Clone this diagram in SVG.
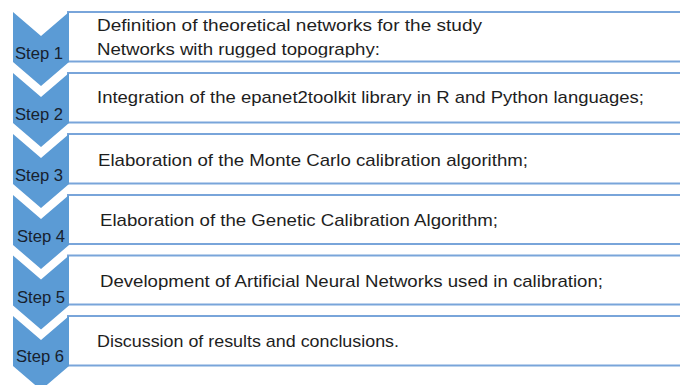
<svg xmlns="http://www.w3.org/2000/svg" width="680" height="385" viewBox="0 0 680 385">
  <defs>
    <style>
      .box { fill: #ffffff; stroke: #79a5da; stroke-width: 2; }
      .chev { fill: #5b9bd5; }
      .step { font-family: "Liberation Sans", Arial, sans-serif; font-size: 17px; fill: #17212e; }
      .txt { font-family: "Liberation Sans", Arial, sans-serif; font-size: 17px; fill: #1e1e1e; }
    </style>
    <!-- the second line of step 1 is cut off at its baseline -->
    <clipPath id="cut1">
      <rect x="60" y="0" width="620" height="57.5"/>
    </clipPath>
  </defs>
  <rect width="680" height="385" fill="#ffffff"/>

  <g id="step1">
    <rect class="box" x="68" y="12" width="620" height="49.5"/>
    <polygon class="chev" points="13,12 41,36 69,12 69,62 41,86 13,62"/>
    <text class="step" x="15" y="59" textLength="48" lengthAdjust="spacingAndGlyphs">Step 1</text>
    <text class="txt" x="97" y="31" textLength="385" lengthAdjust="spacingAndGlyphs">Definition of theoretical networks for the study</text>
    <text class="txt" x="97" y="55" textLength="283" lengthAdjust="spacingAndGlyphs" clip-path="url(#cut1)">Networks with rugged topography:</text>
  </g>

  <g id="step2">
    <rect class="box" x="68" y="73" width="620" height="49.5"/>
    <polygon class="chev" points="13,73 41,97 69,73 69,123 41,147 13,123"/>
    <text class="step" x="15" y="119.5" textLength="48" lengthAdjust="spacingAndGlyphs">Step 2</text>
    <text class="txt" x="97" y="103" textLength="547" lengthAdjust="spacingAndGlyphs">Integration of the epanet2toolkit library in R and Python languages;</text>
  </g>

  <g id="step3">
    <rect class="box" x="68" y="134" width="620" height="49.5"/>
    <polygon class="chev" points="13,134 41,158 69,134 69,184 41,208 13,184"/>
    <text class="step" x="15" y="180.5" textLength="48" lengthAdjust="spacingAndGlyphs">Step 3</text>
    <text class="txt" x="98" y="166" textLength="430" lengthAdjust="spacingAndGlyphs">Elaboration of the Monte Carlo calibration algorithm;</text>
  </g>

  <g id="step4">
    <rect class="box" x="68" y="195" width="620" height="49"/>
    <polygon class="chev" points="13,195 41,219 69,195 69,245 41,269 13,245"/>
    <text class="step" x="17" y="241.5" textLength="48" lengthAdjust="spacingAndGlyphs">Step 4</text>
    <text class="txt" x="100" y="226" textLength="398" lengthAdjust="spacingAndGlyphs">Elaboration of the Genetic Calibration Algorithm;</text>
  </g>

  <g id="step5">
    <rect class="box" x="68" y="255.5" width="620" height="49"/>
    <polygon class="chev" points="13,255.5 41,279.5 69,255.5 69,305.5 41,329.5 13,305.5"/>
    <text class="step" x="17" y="302.5" textLength="48" lengthAdjust="spacingAndGlyphs">Step 5</text>
    <text class="txt" x="100" y="287" textLength="503" lengthAdjust="spacingAndGlyphs">Development of Artificial Neural Networks used in calibration;</text>
  </g>

  <g id="step6">
    <rect class="box" x="68" y="316" width="620" height="49.5"/>
    <polygon class="chev" points="13,316 41,340 69,316 69,366 41,390 13,366"/>
    <text class="step" x="16" y="362" textLength="48" lengthAdjust="spacingAndGlyphs">Step 6</text>
    <text class="txt" x="97" y="347" textLength="302" lengthAdjust="spacingAndGlyphs">Discussion of results and conclusions.</text>
  </g>

  <g id="connectors"/>
</svg>
